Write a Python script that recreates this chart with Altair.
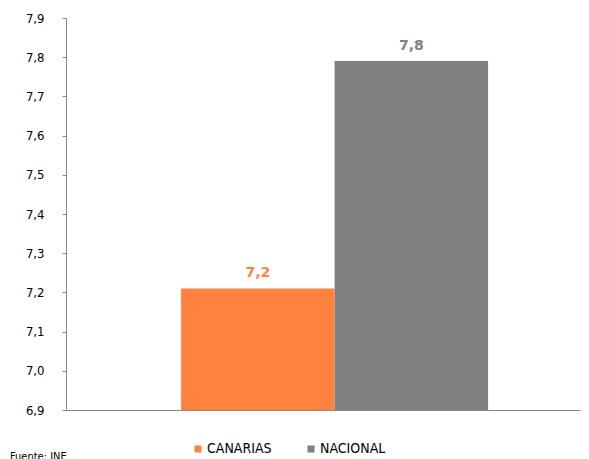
import altair as alt
import pandas as pd

series = ["CANARIAS", "NACIONAL"]
values = [7.21, 7.79]
labels = ["7,2", "7,8"]
colors = ["#FF833F", "#808080"]
y_ticks = [6.9, 7.0, 7.1, 7.2, 7.3, 7.4, 7.5, 7.6, 7.7, 7.8, 7.9]
source_note = ["Fuente: INE"]

df = pd.DataFrame({"serie": series, "valor": values, "etiqueta": labels})
note_df = pd.DataFrame({"t": source_note})

color = alt.Color(
    "serie:N",
    scale=alt.Scale(domain=series, range=colors),
    legend=alt.Legend(
        title=None,
        orient="none",
        legendX=125,
        legendY=424,
        direction="horizontal",
        symbolType="square",
        symbolSize=50,
        symbolStrokeWidth=0,
        labelFont="DejaVu Sans Condensed",
        labelFontSize=14,
        labelColor="#000000",
        labelOffset=2,
        columnPadding=32,
    ),
)

x_axis = alt.Axis(title=None, labels=False, ticks=False, domainColor="#868686")
x = alt.X(
    "serie:N",
    sort=series,
    scale=alt.Scale(paddingInner=0, paddingOuter=0.674, align=0.556),
    axis=x_axis,
)

y_axis = alt.Axis(
    title=None,
    values=y_ticks,
    tickCount=11,
    labelExpr="replace(format(datum.value, '.1f'), '.', ',')",
    labelOverlap=False,
    grid=False,
    tickSize=4,
    tickColor="#868686",
    domainColor="#868686",
    labelPadding=18,
    labelFont="DejaVu Sans Condensed",
    labelFontSize=13,
    labelColor="#000000",
)
y_scale = alt.Scale(domain=[6.9, 7.9], nice=False, zero=False)
y = alt.Y("valor:Q", scale=y_scale, axis=y_axis)

bars = alt.Chart(df).mark_bar(clip=True).encode(x=x, y=y, color=color)

text = alt.Chart(df).mark_text(
    baseline="bottom", dy=-8, font="DejaVu Sans", fontSize=14, fontWeight="bold"
).encode(
    x=x,
    y=y,
    text="etiqueta:N",
    color=alt.Color("serie:N", scale=alt.Scale(domain=series, range=colors), legend=None),
)

note = alt.Chart(note_df).mark_text(
    align="left", baseline="top", font="DejaVu Sans Condensed", fontSize=11, color="#000000"
).encode(x=alt.value(-56), y=alt.value(433), text="t:N")

chart = (
    alt.layer(bars, text, note)
    .properties(
        width=514,
        height=392,
        padding={"left": 58, "top": 10, "right": 1, "bottom": 49},
        autosize=alt.AutoSizeParams(type="none"),
    )
    .configure_view(stroke=None)
    .configure_axis(labelOverlap=False)
)

chart.save("out.html", embed_options={"renderer": "svg", "actions": False})
